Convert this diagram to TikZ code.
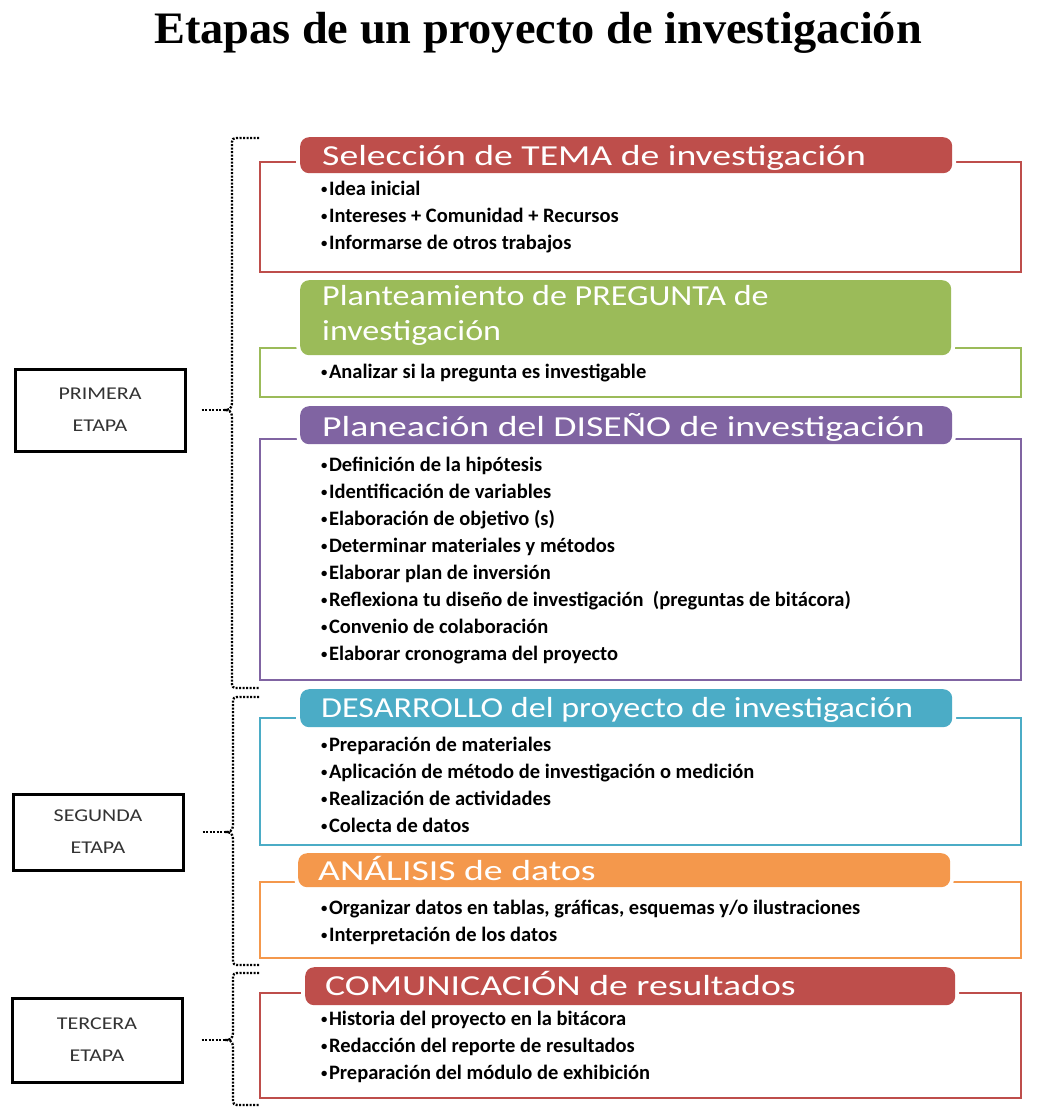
\documentclass[tikz,border=0pt]{standalone}
\usepackage{fontspec}
\setmainfont{Carlito}
\newfontfamily\hdrfont{Carlito}[FakeStretch=1.3]
\newfontfamily\hdrfontn{Carlito}[FakeStretch=1.175]
\newfontfamily\itemfont{Carlito}[FakeStretch=1.0]
\newfontfamily\stagefont{Carlito}[FakeStretch=1.22]
\newfontfamily\titlefont{Liberation Serif}[FakeStretch=1.03]
\definecolor{cred}{RGB}{190,78,75}
\definecolor{cgreen}{RGB}{155,187,89}
\definecolor{cpurple}{RGB}{128,100,162}
\definecolor{cblue}{RGB}{75,172,198}
\definecolor{corange}{RGB}{244,152,76}
\definecolor{stagetext}{RGB}{51,51,51}
\newcommand\itembul{\raisebox{1.6pt}{\scalebox{0.62}{•}}\hspace{1.5pt}}
\tikzset{
  hdr/.style={preaction={draw=white,line width=8pt}, rounded corners=9pt, inner sep=0pt, anchor=north west},
  hlab/.style={anchor=base west, inner sep=0pt, text=white, font=\hdrfont\fontsize{29}{35}\selectfont},
  hlabn/.style={hlab, font=\hdrfontn\fontsize{29}{35}\selectfont},
  frame/.style={line width=2.8pt},
  item/.style={anchor=base west, inner sep=0pt, font=\itemfont\bfseries\fontsize{20.5}{27}\selectfont},
  stagebox/.style={draw=black, line width=3pt, inner sep=0pt, font=\stagefont\fontsize{18}{32}\selectfont, text=stagetext, align=center, minimum width=170pt},
  bracel/.style={line width=2.3pt, dash pattern=on 2pt off 1.5pt},
  title/.style={anchor=base, inner sep=0pt, font=\titlefont\bfseries\fontsize{45}{50}\selectfont}
}
\begin{document}
\begin{tikzpicture}[x=1pt,y=-1pt]
\useasboundingbox (0,0) rectangle (1040,1116);
% title
\node[title] (title) at (538,44) {Etapas de un proyecto de investigación};

% frames
\draw[frame, cred]    (260,162) rectangle (1021,272);
\draw[frame, cgreen]  (260,348) rectangle (1021,397);
\draw[frame, cpurple] (260,439) rectangle (1021,680);
\draw[frame, cblue]   (260,718) rectangle (1021,845);
\draw[frame, corange] (260,882) rectangle (1021,958);
\draw[frame, cred]    (260,993) rectangle (1021,1098);

% headers
\node[hdr, fill=cred,    minimum width=652pt, minimum height=36pt] (h1) at (300,137) {};
\node[hdr, fill=cgreen,  minimum width=651pt, minimum height=75pt] (h2) at (300,280) {};
\node[hdr, fill=cpurple, minimum width=652pt, minimum height=38pt] (h3) at (300,406) {};
\node[hdr, fill=cblue,   minimum width=652pt, minimum height=38pt] (h4) at (300,689) {};
\node[hdr, fill=corange, minimum width=652pt, minimum height=34pt] (h5) at (298,853) {};
\node[hdr, fill=cred,    minimum width=650pt, minimum height=38pt] (h6) at (305,967) {};

\node[hlab]  (l1)  at (322,165) {Selección de TEMA de investigación};
\node[hlabn] (l2a) at (322,305) {Planteamiento de PREGUNTA de};
\node[hlabn] (l2b) at (322,340) {investigación};
\node[hlab]  (l3)  at (322,436) {Planeación del DISEÑO de investigación};
\node[hlabn] (l4)  at (321,717) {DESARROLLO del proyecto de investigación};
\node[hlab]  (l5)  at (318,880) {ANÁLISIS de datos};
\node[hlab]  (l6)  at (325,995) {COMUNICACIÓN de resultados};

% items
\foreach \t [count=\k] in {Idea inicial, Intereses + Comunidad + Recursos, Informarse de otros trabajos}
  \node[item] (a\k) at (321,{195+(\k-1)*27}) {\itembul\t};
\node[item] (b1) at (321,378) {\itembul Analizar si la pregunta es investigable};
\foreach \t [count=\k] in {Definición de la hipótesis, Identificación de variables, Elaboración de objetivo (s), Determinar materiales y métodos, Elaborar plan de inversión, {Reflexiona tu diseño de investigación\ \ (preguntas de bitácora)}, Convenio de colaboración, Elaborar cronograma del proyecto}
  \node[item] (c\k) at (321,{471+(\k-1)*27}) {\itembul\t};
\foreach \t [count=\k] in {Preparación de materiales, Aplicación de método de investigación o medición, Realización de actividades, Colecta de datos}
  \node[item] (d\k) at (321,{751+(\k-1)*27}) {\itembul\t};
\foreach \t [count=\k] in {{Organizar datos en tablas, gráficas, esquemas y/o ilustraciones}, Interpretación de los datos}
  \node[item] (e\k) at (321,{914+(\k-1)*27}) {\itembul\t};
\foreach \t [count=\k] in {Historia del proyecto en la bitácora, Redacción del reporte de resultados, Preparación del módulo de exhibición}
  \node[item] (f\k) at (321,{1025+(\k-1)*27}) {\itembul\t};

% stage boxes
\node[stagebox, minimum height=82pt] (s1) at (100,410) {PRIMERA\\ETAPA};
\node[stagebox, minimum height=76pt] (s2) at (98,832) {SEGUNDA\\ETAPA};
\node[stagebox, minimum height=84pt] (s3) at (97,1040) {TERCERA\\ETAPA};

% brace tips
\coordinate (t1) at (224,410);
\coordinate (t2) at (225,832);
\coordinate (t3) at (225,1040);

% braces
\draw[bracel] (259,138) -- (240,138) .. controls (232,138) .. (232,146) -- (232,402)
  .. controls (232,410) and (228,410) .. (t1) .. controls (228,410) and (232,410) .. (232,418)
  -- (232,680) .. controls (232,688) .. (240,688) -- (259,688);
\draw[bracel] (259,697) -- (241,697) .. controls (233,697) .. (233,705) -- (233,824)
  .. controls (233,832) and (229,832) .. (t2) .. controls (229,832) and (233,832) .. (233,840)
  -- (233,957) .. controls (233,965) .. (241,965) -- (259,965);
\draw[bracel] (259,973) -- (241,973) .. controls (233,973) .. (233,981) -- (233,1032)
  .. controls (233,1040) and (229,1040) .. (t3) .. controls (229,1040) and (233,1040) .. (233,1048)
  -- (233,1097) .. controls (233,1105) .. (241,1105) -- (259,1105);

% connectors
\draw[bracel, shorten <=15pt] (s1.east) -- (t1);
\draw[bracel, shorten <=18pt] (s2.east) -- (t2);
\draw[bracel, shorten <=18pt] (s3.east) -- (t3);
\end{tikzpicture}
\end{document}
